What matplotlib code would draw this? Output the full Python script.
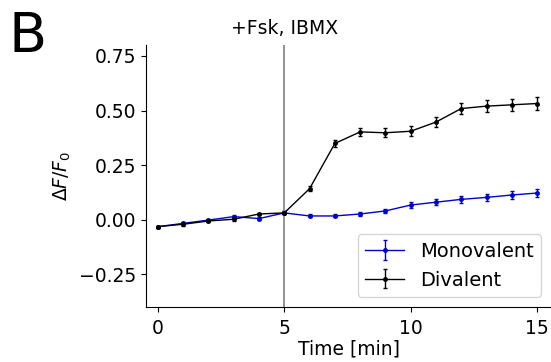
import matplotlib
matplotlib.use("Agg")
import matplotlib.pyplot as plt
import numpy as np

# time points [min]
time = np.arange(0, 16)

mono = [-0.032, -0.017, -0.002, 0.014, 0.005, 0.031, 0.017, 0.017,
        0.026, 0.040, 0.067, 0.080, 0.093, 0.102, 0.113, 0.122]
mono_err = [0.005, 0.006, 0.006, 0.007, 0.007, 0.007, 0.007, 0.007,
            0.009, 0.010, 0.012, 0.014, 0.015, 0.016, 0.017, 0.018]

div = [-0.032, -0.021, -0.006, 0.002, 0.026, 0.031, 0.142, 0.349,
       0.402, 0.398, 0.405, 0.447, 0.509, 0.520, 0.526, 0.532]
div_err = [0.005, 0.006, 0.006, 0.006, 0.006, 0.007, 0.010, 0.015,
           0.018, 0.020, 0.022, 0.022, 0.025, 0.027, 0.027, 0.028]

plt.rcParams['font.size'] = 13.5

fig = plt.figure(figsize=(5.51, 3.62), dpi=100)
ax = fig.add_axes([146 / 551, 55 / 362, 1 - 146 / 551, 262 / 362])

ax.errorbar(time, mono, yerr=mono_err, color='#0000cc', marker='.', ms=5,
            lw=1, elinewidth=1, capsize=1.5, label='Monovalent')
ax.errorbar(time, div, yerr=div_err, color='black', marker='.', ms=5,
            lw=1, elinewidth=1, capsize=1.5, label='Divalent')
ax.axvline(5, color='gray', lw=1.2)
ax.text(5, 0.83, '+Fsk, IBMX', ha='center', va='bottom')

ax.set_xlim(-0.47, 15.55)
ax.set_ylim(-0.40, 0.80)
ax.set_xticks([0, 5, 10, 15])
ax.set_yticks([-0.25, 0, 0.25, 0.5, 0.75])
ax.tick_params(axis='x', pad=5)
ax.set_xlabel('Time [min]', labelpad=1)
ax.set_ylabel(r'$\Delta F/F_0$')
ax.spines['top'].set_visible(False)
ax.spines['right'].set_visible(False)
ax.legend(loc='lower right', fontsize=14)

fig.text(9 / 551, 1 - 10 / 362, 'B', fontsize=40, va='top', ha='left')

fig.savefig('out.png', dpi=100)
